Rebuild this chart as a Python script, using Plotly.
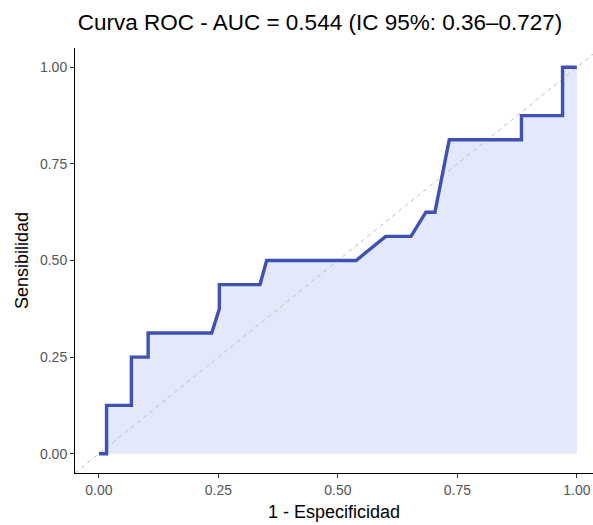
import plotly.graph_objects as go

# ROC curve points
fpr = [0.0, 0.016, 0.016, 0.068, 0.068, 0.103, 0.103, 0.236, 0.252, 0.252, 0.337, 0.351,
       0.538, 0.600, 0.653, 0.684, 0.703, 0.733, 0.884, 0.884, 0.970, 0.970, 1.0]
tpr = [0.0, 0.0, 0.125, 0.125, 0.25, 0.25, 0.3125, 0.3125, 0.375, 0.4375, 0.4375, 0.5,
       0.5, 0.5625, 0.5625, 0.625, 0.625, 0.8125, 0.8125, 0.875, 0.875, 1.0, 1.0]
diag = [-0.05, 1.05]
ticks = [0.0, 0.25, 0.5, 0.75, 1.0]
tick_text = ["0.00", "0.25", "0.50", "0.75", "1.00"]

title_text = "Curva ROC - AUC = 0.544 (IC 95%: 0.36\u20130.727)"

W, H = 593, 525

fig = go.Figure()

# shaded area under the curve
fig.add_trace(go.Scatter(
    x=fpr, y=tpr,
    mode='lines',
    line=dict(width=0),
    fill='tozeroy',
    fillcolor='#E3E8FA',
    hoverinfo='skip',
    showlegend=False
))

# chance diagonal
fig.add_trace(go.Scatter(
    x=diag, y=diag,
    mode='lines',
    line=dict(color='#BEBEBE', width=1, dash='4px,4px'),
    showlegend=False
))

# ROC curve
fig.add_trace(go.Scatter(
    x=fpr, y=tpr,
    mode='lines',
    line=dict(color='#3F51B5', width=3.4),
    showlegend=False
))

fig.update_layout(
    width=W, height=H,
    margin=dict(l=75, r=0, t=48, b=52),
    paper_bgcolor='white',
    plot_bgcolor='white',
    font=dict(family='Liberation Sans, Arial, sans-serif', color='black'),
    title=dict(
        text=title_text,
        font=dict(size=22.5, color='black'),
        x=320 / W, xanchor='center', xref='container',
        y=1 - 22 / H, yanchor='middle', yref='container'
    ),
)
fig.update_xaxes(
    range=[-0.05, 1.0337],
    tickvals=ticks, ticktext=tick_text,
    showgrid=False, zeroline=False, automargin=False,
    ticklabeloverflow='allow',
    showline=True, linecolor='black', linewidth=1,
    ticks='outside', ticklen=4, tickcolor='#333333',
    tickfont=dict(size=14, color='#555555'),
    title=dict(text='1 - Especificidad', font=dict(size=18, color='black'), standoff=8)
)
fig.update_yaxes(
    range=[-0.05, 1.05],
    tickvals=ticks, ticktext=tick_text,
    showgrid=False, zeroline=False, automargin=False,
    showline=True, linecolor='black', linewidth=1,
    ticks='outside', ticklen=4, tickcolor='#333333',
    tickfont=dict(size=14, color='#555555'),
    title=dict(text='Sensibilidad', font=dict(size=18, color='black'), standoff=6)
)

# drop the default page margin so the figure fills the window exactly
fig.write_html(
    "out.html",
    config={'displayModeBar': False},
    post_script="document.body.style.margin='0';document.body.style.overflow='hidden';"
)
